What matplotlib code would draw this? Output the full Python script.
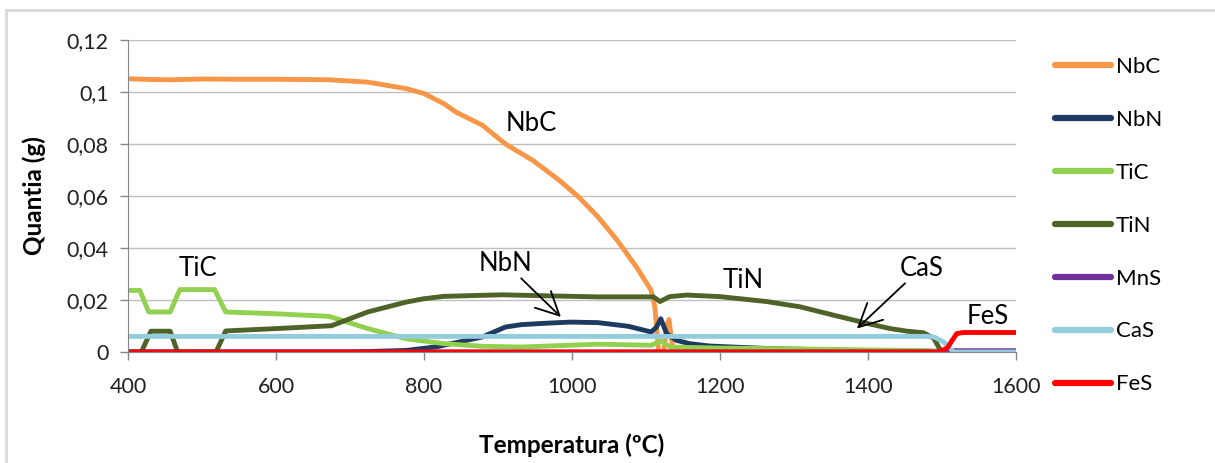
import matplotlib
matplotlib.use("Agg")
import matplotlib.pyplot as plt
from matplotlib.lines import Line2D

plt.rcParams['font.family'] = ['Lato', 'DejaVu Sans']

# ---- data ----
nbc_t = [400, 430, 460, 500, 550, 600, 672, 724, 776, 800, 827, 843, 879, 910, 947, 983, 1009, 1035, 1061, 1087, 1107, 1112, 1117, 1124, 1128, 1131, 1134, 1137, 1600]
nbc_v = [0.1051, 0.1048, 0.1047, 0.1050, 0.1049, 0.1049, 0.1047, 0.1038, 0.1013, 0.0994, 0.0955, 0.0923, 0.0872, 0.0800, 0.0737, 0.0660, 0.0596, 0.0520, 0.0430, 0.0327, 0.0237, 0.0173, 0.0, 0.0, 0.0100, 0.0125, 0.0060, 0.0, 0.0]

nbn_t = [400, 700, 776, 817, 853, 879, 910, 931, 960, 998, 1035, 1076, 1107, 1114, 1120, 1128, 1141, 1159, 1186, 1218, 1260, 1300, 1350, 1400, 1600]
nbn_v = [0.0, 0.0, 0.0006, 0.0020, 0.0042, 0.0058, 0.0096, 0.0105, 0.0110, 0.0115, 0.0113, 0.0099, 0.0077, 0.0095, 0.0128, 0.0070, 0.0045, 0.0032, 0.0023, 0.0019, 0.0014, 0.0011, 0.0008, 0.0005, 0.0]

tic_t = [400, 416, 428, 457, 470, 517, 532, 600, 672, 724, 776, 827, 879, 931, 1035, 1107, 1120, 1133, 1200, 1300, 1400, 1480, 1500, 1600]
tic_v = [0.0237, 0.0237, 0.0154, 0.0154, 0.0240, 0.0240, 0.0154, 0.0147, 0.0137, 0.0090, 0.0051, 0.0032, 0.0022, 0.0019, 0.0030, 0.0026, 0.0042, 0.0019, 0.0015, 0.0012, 0.0008, 0.0005, 0.0, 0.0]

tin_t = [400, 418, 431, 457, 467, 519, 532, 600, 675, 724, 776, 800, 827, 905, 983, 1035, 1110, 1119, 1132, 1155, 1200, 1263, 1308, 1353, 1399, 1430, 1453, 1475, 1489, 1498, 1505, 1600]
tin_v = [0.0, 0.0, 0.0080, 0.0080, 0.0, 0.0, 0.0081, 0.0090, 0.0101, 0.0154, 0.0192, 0.0205, 0.0214, 0.0220, 0.0215, 0.0212, 0.0212, 0.0194, 0.0213, 0.0219, 0.0213, 0.0194, 0.0174, 0.0142, 0.0110, 0.0090, 0.0080, 0.0074, 0.0052, 0.0006, 0.0, 0.0]

mns_t = [400, 1495, 1505, 1512, 1520, 1600]
mns_v = [0.0, 0.0, 0.0008, 0.0006, 0.0005, 0.0005]

cas_t = [400, 1480, 1490, 1502, 1516, 1600]
cas_v = [0.0060, 0.0060, 0.0057, 0.0039, 0.0, 0.0]

fes_t = [400, 1495, 1507, 1515, 1520, 1529, 1600]
fes_v = [0.0, 0.0, 0.0015, 0.0050, 0.0071, 0.0075, 0.0075]

series_names = ['NbC', 'NbN', 'TiC', 'TiN', 'MnS', 'CaS', 'FeS']
series_colors = ['#F79646', '#1F3A60', '#92D050', '#4F6228', '#7030A0', '#93CDDD', '#FF0000']

x_ticks = [400, 600, 800, 1000, 1200, 1400, 1600]
y_ticks = [0, 0.02, 0.04, 0.06, 0.08, 0.1, 0.12]
y_tick_labels = ['0', '0,02', '0,04', '0,06', '0,08', '0,1', '0,12']

# ---- figure ----
W, H = 1215, 463
fig = plt.figure(figsize=(W / 100, H / 100), dpi=100)
fig.patch.set_facecolor('white')

# outer frame (top and left visible)
fig.add_artist(Line2D([6 / W, 6 / W], [0, 1 - 10 / H], transform=fig.transFigure, color='#D9D9D9', lw=2))
fig.add_artist(Line2D([6 / W, 1], [1 - 10 / H, 1 - 10 / H], transform=fig.transFigure, color='#D9D9D9', lw=2))

ax = fig.add_axes([128 / W, 1 - 352 / H, (1016 - 128) / W, (352 - 40) / H])

data = [(nbc_t, nbc_v), (nbn_t, nbn_v), (tic_t, tic_v), (tin_t, tin_v),
        (mns_t, mns_v), (cas_t, cas_v), (fes_t, fes_v)]
for (t, v), name, c in zip(data, series_names, series_colors):
    ax.plot(t, v, color=c, lw=3.5, label=name, solid_joinstyle='round', solid_capstyle='round')

ax.set_xlim(400, 1600)
ax.set_ylim(0, 0.12)
ax.set_xticks(x_ticks)
ax.set_xticklabels([str(x) for x in x_ticks])
ax.set_yticks(y_ticks)
ax.set_yticklabels(y_tick_labels)
ax.grid(axis='y', color='#BFBFBF', lw=1)
ax.set_axisbelow(True)
for s in ['top', 'right']:
    ax.spines[s].set_visible(False)
for s in ['left', 'bottom']:
    ax.spines[s].set_color('#868686')
ax.tick_params(axis='both', colors='#868686', length=6, width=1, labelsize=15.5, labelcolor='#222222')
ax.tick_params(axis='x', pad=12)
ax.tick_params(axis='y', pad=8)

ax.set_xlabel('Temperatura (ºC)', fontsize=17.5, fontweight='bold', labelpad=26)
ax.set_ylabel('Quantia (g)', fontsize=17.5, fontweight='bold', labelpad=15)

# annotations
txt = dict(fontsize=18.5, ha='center', va='center', color='black')
ax.text(945, 0.0878, 'NbC', **txt)
ax.text(495, 0.0320, 'TiC', **txt)
ax.text(1232, 0.0275, 'TiN', **txt)
ax.text(1562, 0.0135, 'FeS', **txt)
arr = dict(arrowstyle='->,head_length=0.9,head_width=0.45', color='black', lw=1.3, shrinkA=0, shrinkB=0)
ax.annotate('NbN', xy=(985, 0.0135), xytext=(910, 0.0342), arrowprops=arr, **txt)
ax.annotate('CaS', xy=(1385, 0.0090), xytext=(1472, 0.0323), arrowprops=arr, **txt)

leg = ax.legend(loc='upper left', bbox_to_anchor=(1055 / W, 1 - 57 / H), bbox_transform=fig.transFigure,
                frameon=False, fontsize=16, handlelength=2.5, handletextpad=0.25,
                labelspacing=1.48, borderaxespad=0, borderpad=0)
for line in leg.get_lines():
    line.set_linewidth(4.5)

fig.savefig('out.png', dpi=100)
